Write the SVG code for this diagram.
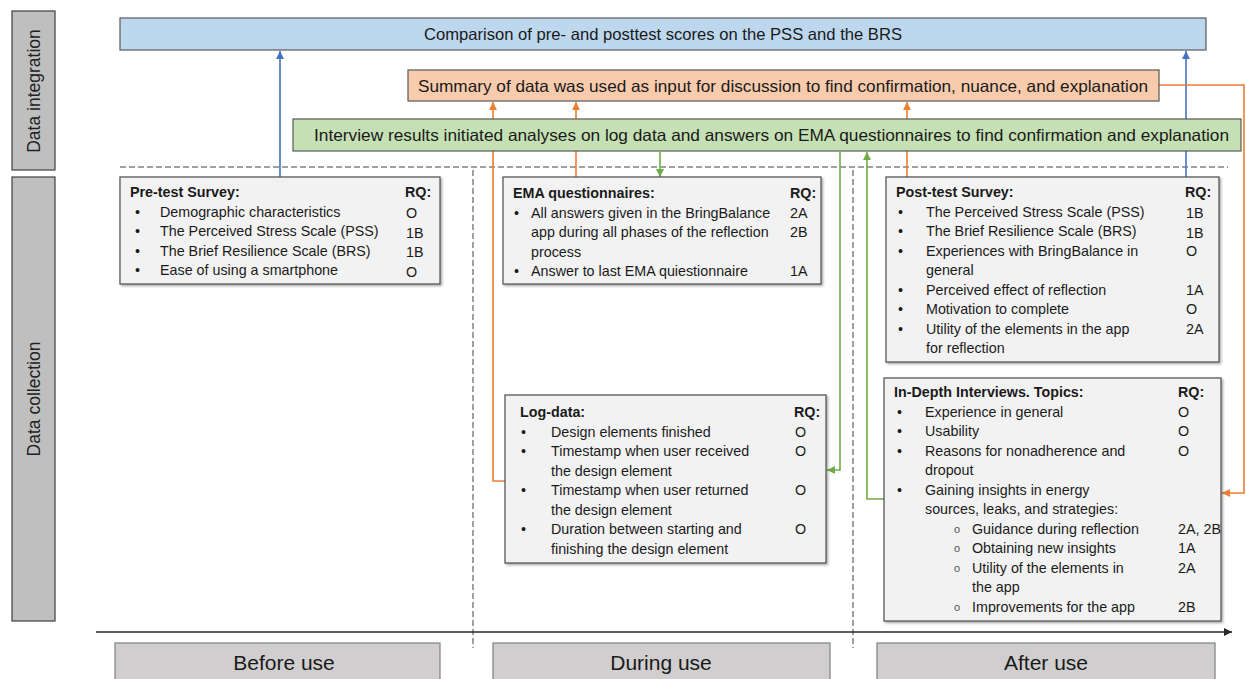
<svg xmlns="http://www.w3.org/2000/svg" width="1246" height="679" viewBox="0 0 1246 679">
<defs>
<style>
text{font-family:"Liberation Sans",Arial,sans-serif;fill:#1a1a1a}
.t{font-size:14.3px}
.b{font-weight:bold}
.banner{font-size:16.5px}
.side{font-size:17.5px;fill:#222}
.phase{font-size:21px;fill:#1a1a1a}
.box{fill:#f2f2f2;stroke:#4d4d4d;stroke-width:1.2}
.sub{font-size:11px;fill:#555}
.blue{stroke:#4472c4;stroke-width:1.6;fill:none}
.orange{stroke:#ed7d31;stroke-width:1.6;fill:none}
.green{stroke:#70ad47;stroke-width:1.6;fill:none}
.dash{stroke:#404040;stroke-width:1;stroke-dasharray:6 3;fill:none}
</style>
<marker id="ab" viewBox="0 0 10 10" refX="10" refY="5" markerWidth="8" markerHeight="8" markerUnits="userSpaceOnUse" orient="auto"><path d="M0,0 L10,5 L0,10 z" fill="#4472c4"/></marker>
<marker id="ao" viewBox="0 0 10 10" refX="10" refY="5" markerWidth="8" markerHeight="8" markerUnits="userSpaceOnUse" orient="auto"><path d="M0,0 L10,5 L0,10 z" fill="#ed7d31"/></marker>
<marker id="ag" viewBox="0 0 10 10" refX="10" refY="5" markerWidth="8" markerHeight="8" markerUnits="userSpaceOnUse" orient="auto"><path d="M0,0 L10,5 L0,10 z" fill="#70ad47"/></marker>
<marker id="ak" viewBox="0 0 10 10" refX="10" refY="5" markerWidth="8" markerHeight="8" markerUnits="userSpaceOnUse" orient="auto"><path d="M0,0 L10,5 L0,10 z" fill="#262626"/></marker>
<filter id="sh" x="-5%" y="-5%" width="110%" height="115%"><feDropShadow dx="1.5" dy="1.5" stdDeviation="1" flood-color="#000" flood-opacity="0.35"/></filter>
</defs>
<rect width="1246" height="679" fill="#fff"/>

<g id="side-labels">
<g id="data-integration"><rect x="12" y="11" width="43" height="159" fill="#bfbfbf" stroke="#404040" stroke-width="1.2"/><text class="side" transform="translate(40,91) rotate(-90)" text-anchor="middle">Data integration</text></g>
<g id="data-collection"><rect x="12" y="177" width="43" height="444" fill="#bfbfbf" stroke="#404040" stroke-width="1.2"/><text class="side" transform="translate(40,399) rotate(-90)" text-anchor="middle">Data collection</text></g>
</g>

<g id="guides">
<line class="dash" x1="120" y1="167" x2="1228" y2="167"/>
<line class="dash" x1="473" y1="170" x2="473" y2="648"/>
<line class="dash" x1="853" y1="170" x2="853" y2="648"/>
<line x1="96" y1="632" x2="1232" y2="632" stroke="#262626" stroke-width="1.6" marker-end="url(#ak)"/>
</g>

<g id="connectors">
<path class="blue" d="M280,177 V51" marker-end="url(#ab)"/>
<path class="blue" d="M1186,177 V51" marker-end="url(#ab)"/>
<path class="orange" d="M505,481 H493 V102" marker-end="url(#ao)"/>
<path class="orange" d="M576,177 V102" marker-end="url(#ao)"/>
<path class="orange" d="M907,177 V102" marker-end="url(#ao)"/>
<path class="orange" d="M1158,85 H1244 V493 H1222" marker-end="url(#ao)"/>
<path class="green" d="M660,152 V177" marker-end="url(#ag)"/>
<path class="green" d="M840,152 V470 H827" marker-end="url(#ag)"/>
<path class="green" d="M884,499 H867 V152" marker-end="url(#ag)"/>
</g>

<g id="comparison"><rect x="120" y="18" width="1086" height="32" fill="#bdd7ee" stroke="#595959" stroke-width="1.2"/><text class="banner" x="424" y="40" textLength="478" lengthAdjust="spacingAndGlyphs">Comparison of pre- and posttest scores on the PSS and the BRS</text></g>
<g id="summary"><rect x="408" y="70" width="751" height="31" fill="#f8cbad" stroke="#595959" stroke-width="1.2"/><text class="banner" x="418" y="91.5" textLength="730" lengthAdjust="spacingAndGlyphs">Summary of data was used as input for discussion to find confirmation, nuance, and explanation</text></g>
<g id="interview-results"><rect x="293" y="119" width="948" height="32" fill="#c5e0b4" stroke="#595959" stroke-width="1.2"/><text class="banner" x="314" y="141" textLength="915" lengthAdjust="spacingAndGlyphs">Interview results initiated analyses on log data and answers on EMA questionnaires to find confirmation and explanation</text></g>

<g id="pretest">
<rect class="box" x="120" y="177" width="320" height="107" filter="url(#sh)"/>
<text class="t b" x="130" y="197">Pre-test Survey:</text><text class="t b" x="405" y="197">RQ:</text>
<text class="t" x="135" y="216.5">•</text><text class="t" x="160" y="216.5">Demographic characteristics</text><text class="t" x="406" y="218">O</text>
<text class="t" x="135" y="236">•</text><text class="t" x="160" y="236">The Perceived Stress Scale (PSS)</text><text class="t" x="406" y="237.5">1B</text>
<text class="t" x="135" y="255.5">•</text><text class="t" x="160" y="255.5">The Brief Resilience Scale (BRS)</text><text class="t" x="406" y="257">1B</text>
<text class="t" x="135" y="275">•</text><text class="t" x="160" y="275">Ease of using a smartphone</text><text class="t" x="406" y="276.5">O</text>
</g>

<g id="ema">
<rect class="box" x="503" y="177" width="318" height="107" filter="url(#sh)"/>
<text class="t b" x="513" y="198">EMA questionnaires:</text><text class="t b" x="790" y="198">RQ:</text>
<text class="t" x="514" y="217.5">•</text><text class="t" x="531" y="217.5">All answers given in the BringBalance</text><text class="t" x="790" y="217.5">2A</text>
<text class="t" x="531" y="237">app during all phases of the reflection</text><text class="t" x="790" y="237">2B</text>
<text class="t" x="531" y="256.5">process</text>
<text class="t" x="514" y="276">•</text><text class="t" x="531" y="276">Answer to last EMA quiestionnaire</text><text class="t" x="790" y="276">1A</text>
</g>

<g id="logdata">
<rect class="box" x="505" y="395" width="321" height="168" filter="url(#sh)"/>
<text class="t b" x="520" y="417">Log-data:</text><text class="t b" x="794" y="417">RQ:</text>
<text class="t" x="521" y="436.5">•</text><text class="t" x="551" y="436.5">Design elements finished</text><text class="t" x="795" y="436.5">O</text>
<text class="t" x="521" y="456">•</text><text class="t" x="551" y="456">Timestamp when user received</text><text class="t" x="795" y="456">O</text>
<text class="t" x="551" y="475.5">the design element</text>
<text class="t" x="521" y="495">•</text><text class="t" x="551" y="495">Timestamp when user returned</text><text class="t" x="795" y="495">O</text>
<text class="t" x="551" y="514.5">the design element</text>
<text class="t" x="521" y="534">•</text><text class="t" x="551" y="534">Duration between starting and</text><text class="t" x="795" y="534">O</text>
<text class="t" x="551" y="553.5">finishing the design element</text>
</g>

<g id="posttest">
<rect class="box" x="886" y="177" width="333" height="185" filter="url(#sh)"/>
<text class="t b" x="896" y="197">Post-test Survey:</text><text class="t b" x="1185" y="197">RQ:</text>
<text class="t" x="898" y="216.5">•</text><text class="t" x="926" y="216.5">The Perceived Stress Scale (PSS)</text><text class="t" x="1186" y="218">1B</text>
<text class="t" x="898" y="236">•</text><text class="t" x="926" y="236">The Brief Resilience Scale (BRS)</text><text class="t" x="1186" y="237.5">1B</text>
<text class="t" x="898" y="255.5">•</text><text class="t" x="926" y="255.5">Experiences with BringBalance in</text><text class="t" x="1186" y="255.5">O</text>
<text class="t" x="926" y="275">general</text>
<text class="t" x="898" y="294.5">•</text><text class="t" x="926" y="294.5">Perceived effect of reflection</text><text class="t" x="1186" y="294.5">1A</text>
<text class="t" x="898" y="314">•</text><text class="t" x="926" y="314">Motivation to complete</text><text class="t" x="1186" y="314">O</text>
<text class="t" x="898" y="333.5">•</text><text class="t" x="926" y="333.5">Utility of the elements in the app</text><text class="t" x="1186" y="333.5">2A</text>
<text class="t" x="926" y="353">for reflection</text>
</g>

<g id="interviews">
<rect class="box" x="884" y="378" width="337" height="243" filter="url(#sh)"/>
<text class="t b" x="894" y="397">In-Depth Interviews. Topics:</text><text class="t b" x="1178" y="397">RQ:</text>
<text class="t" x="897" y="416.5">•</text><text class="t" x="925" y="416.5">Experience in general</text><text class="t" x="1178" y="416.5">O</text>
<text class="t" x="897" y="436">•</text><text class="t" x="925" y="436">Usability</text><text class="t" x="1178" y="436">O</text>
<text class="t" x="897" y="455.5">•</text><text class="t" x="925" y="455.5">Reasons for nonadherence and</text><text class="t" x="1178" y="455.5">O</text>
<text class="t" x="925" y="475">dropout</text>
<text class="t" x="897" y="494.5">•</text><text class="t" x="925" y="494.5">Gaining insights in energy</text>
<text class="t" x="925" y="514">sources, leaks, and strategies:</text>
<text class="sub" x="954" y="532.5">o</text><text class="t" x="972" y="533.5">Guidance during reflection</text><text class="t" x="1178" y="533.5">2A, 2B</text>
<text class="sub" x="954" y="552">o</text><text class="t" x="972" y="553">Obtaining new insights</text><text class="t" x="1178" y="553">1A</text>
<text class="sub" x="954" y="571.5">o</text><text class="t" x="972" y="572.5">Utility of the elements in</text><text class="t" x="1178" y="572.5">2A</text>
<text class="t" x="972" y="592">the app</text>
<text class="sub" x="954" y="610.5">o</text><text class="t" x="972" y="611.5">Improvements for the app</text><text class="t" x="1178" y="611.5">2B</text>
</g>

<g id="phases">
<g id="before-use"><rect x="115" y="643" width="325" height="45" fill="#d0cece" stroke="#808080" stroke-width="1.2"/><text class="phase" x="284" y="670" text-anchor="middle">Before use</text></g>
<g id="during-use"><rect x="493" y="643" width="337" height="45" fill="#d0cece" stroke="#808080" stroke-width="1.2"/><text class="phase" x="661" y="670" text-anchor="middle">During use</text></g>
<g id="after-use"><rect x="877" y="643" width="338" height="45" fill="#d0cece" stroke="#808080" stroke-width="1.2"/><text class="phase" x="1046" y="670" text-anchor="middle">After use</text></g>
</g>
</svg>
